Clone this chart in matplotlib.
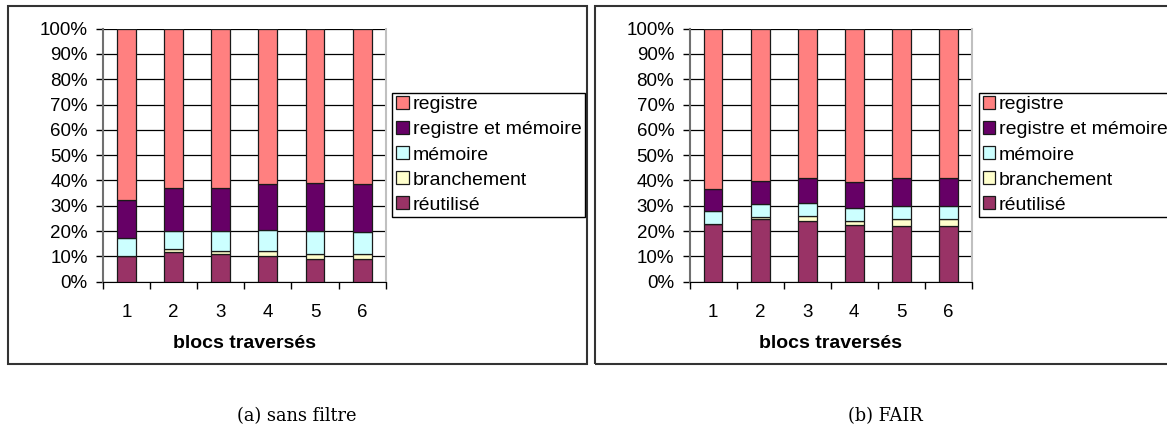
"""
Stacked 100% bars: instruction operand origin vs blocs traversés.
"""

import numpy as np
from matplotlib import pyplot as plt
from matplotlib.patches import Rectangle
from matplotlib.ticker import FuncFormatter, MultipleLocator, FixedLocator

plt.rcParams['font.family'] = ['Liberation Sans', 'DejaVu Sans']

categories = ["1", "2", "3", "4", "5", "6"]
series_names = ["réutilisé", "branchement", "mémoire", "registre et mémoire", "registre"]
series_colors = ["#993366", "#FFFFCC", "#CCFFFF", "#660066", "#FF8080"]

# (a) sans filtre, % per segment, bottom to top
sf_reutilise = [10.0, 11.9, 11.0, 10.0, 8.9, 8.9]
sf_branchement = [0.2, 1.2, 1.0, 2.3, 2.1, 2.0]
sf_memoire = [7.0, 6.9, 8.0, 8.0, 8.9, 8.8]
sf_reg_mem = [15.1, 17.0, 17.0, 18.2, 19.2, 19.0]
sf_registre = [67.7, 63.0, 63.0, 61.5, 60.9, 61.3]

# (b) FAIR
fair_reutilise = [22.8, 24.8, 24.0, 22.3, 22.0, 22.0]
fair_branchement = [0.2, 0.9, 2.1, 1.8, 2.9, 2.9]
fair_memoire = [4.8, 5.0, 4.9, 5.2, 5.2, 5.2]
fair_reg_mem = [8.9, 9.2, 10.1, 10.2, 11.0, 11.0]
fair_registre = [63.3, 60.1, 58.9, 60.5, 58.9, 58.9]

xlabel = "blocs traversés"
captions = ["(a) sans filtre", "(b) FAIR"]

W, H = 1167, 429
FS = 13.5
LFS = 14


def px(x0, y0, x1, y1):
    # pixel box (top-left origin) -> figure fraction rect
    return [x0 / W, 1 - y1 / H, (x1 - x0) / W, (y1 - y0) / H]


def StackedPanel(fig, rect, segments, legend_xy):
    ax = fig.add_axes(rect)
    x = np.arange(1, len(categories) + 1)
    bottom = np.zeros(len(categories))
    handles = []
    for vals, name, col in zip(segments, series_names, series_colors):
        b = ax.bar(x, vals, width=0.4, bottom=bottom, color=col,
                   edgecolor="#1a1a1a", linewidth=0.9, label=name, zorder=3)
        handles.append(b)
        bottom += np.array(vals)

    ax.set_xlim(0.5, len(categories) + 0.5)
    ax.set_ylim(0, 100)
    ax.yaxis.set_major_locator(MultipleLocator(10))
    ax.yaxis.set_major_formatter(FuncFormatter(lambda v, p: "%d%%" % v))
    ax.yaxis.grid(True, color="black", linewidth=0.9)
    ax.set_axisbelow(True)

    # category boundaries get the ticks, labels sit in the middle
    ax.xaxis.set_major_locator(FixedLocator(np.arange(0.5, len(categories) + 1)))
    ax.xaxis.set_major_formatter(FuncFormatter(lambda v, p: ""))
    ax.xaxis.set_minor_locator(FixedLocator(x))
    ax.set_xticklabels(categories, minor=True)
    ax.tick_params(axis="x", which="major", direction="out", length=5, width=1)
    ax.tick_params(axis="x", which="minor", length=0, pad=16, labelsize=FS)
    ax.tick_params(axis="y", direction="out", length=5, width=1, pad=6, labelsize=FS)

    ax.spines["top"].set_visible(False)
    ax.spines["left"].set_color("#707070")
    ax.spines["left"].set_linewidth(1.5)
    ax.spines["right"].set_color("#c0c0c0")
    ax.spines["right"].set_linewidth(1.5)
    ax.spines["bottom"].set_color("black")

    ax.set_xlabel(xlabel, fontsize=LFS, fontweight="bold", labelpad=10)

    leg = fig.legend(handles[::-1], series_names[::-1], loc="upper left",
                     bbox_to_anchor=(legend_xy[0] / W, 1 - legend_xy[1] / H),
                     borderaxespad=0, fontsize=LFS, frameon=True, fancybox=False,
                     edgecolor="black", framealpha=1, handlelength=0.65,
                     handleheight=0.65, handletextpad=0.2, labelspacing=0.4,
                     borderpad=0.18)
    leg.get_frame().set_linewidth(1.0)
    return ax


fig = plt.figure(figsize=(W / 100, H / 100), dpi=100)

# outer chart frames
for x0, x1 in [(7.5, 586.5), (595, 1175)]:
    fig.patches.append(Rectangle((x0 / W, 1 - 363.5 / H), (x1 - x0) / W, 358 / H,
                                 transform=fig.transFigure, fill=False,
                                 edgecolor="#333333", linewidth=1.5))

StackedPanel(fig, px(103, 28.7, 385.7, 281.7),
             [sf_reutilise, sf_branchement, sf_memoire, sf_reg_mem, sf_registre],
             (392.5, 92.5))
StackedPanel(fig, px(689.5, 28.7, 972, 281.7),
             [fair_reutilise, fair_branchement, fair_memoire, fair_reg_mem, fair_registre],
             (979, 92.5))

fig.text(297 / W, 1 - 416 / H, captions[0], ha="center", va="center",
         fontsize=12.8, family="DejaVu Serif")
fig.text(885 / W, 1 - 416 / H, captions[1], ha="center", va="center",
         fontsize=12.8, family="DejaVu Serif")

plt.savefig("out.png", dpi=100)
